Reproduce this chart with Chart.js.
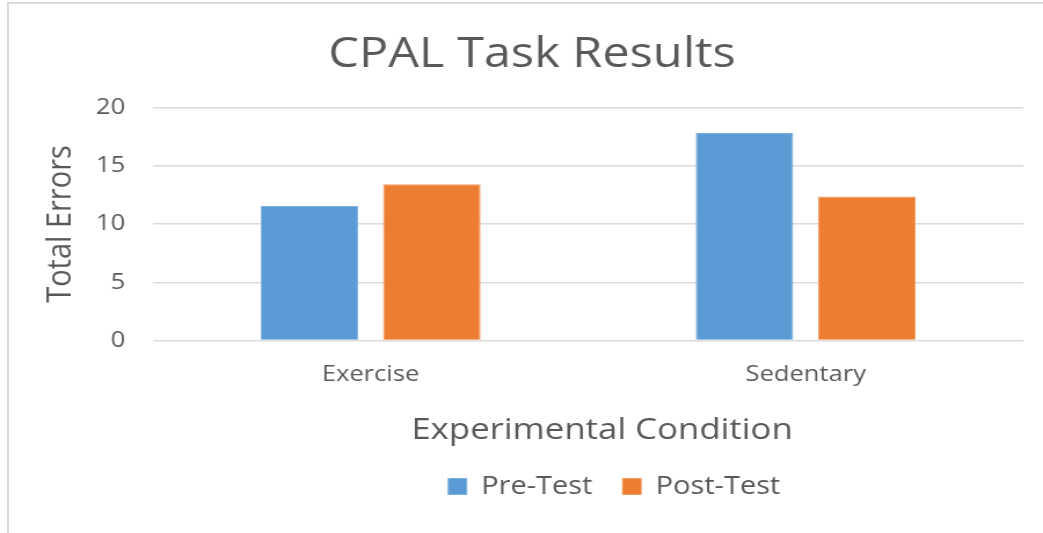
<!DOCTYPE html>
<html>
<head>
<meta charset="utf-8">
<script src="https://cdn.jsdelivr.net/npm/chart.js@4"></script>
<style>
  html, body { margin: 0; padding: 0; background: #fff; overflow: hidden; }
  #frame { position: absolute; left: 7px; top: 2px; width: 1200px; height: 700px;
           border-left: 2px solid #d9d9d9; border-top: 2px solid #d9d9d9; }
  #chart { position: absolute; left: 0; top: 0; transform-origin: 0 0; transform: scaleX(1.1589); }
</style>
</head>
<body>
<div id="frame"></div>
<canvas id="chart" width="900" height="533"></canvas>
<script>
const categorias = ["Exercise", "Sedentary"];
const preTest = [11.55, 17.8];
const postTest = [13.4, 12.35];
const serieNomes = ["Pre-Test", "Post-Test"];
const yTicks = [0, 5, 10, 15, 20];

const cinza = "#595959";
const fonte = "'Open Sans', 'Noto Sans', sans-serif";

// desloca a legenda e o título do eixo x para a direita, como no original
const ajustes = {
  id: "ajustes",
  afterLayout(chart) {
    const l = chart.legend;
    if (l) { l.left += 71; l.right += 71; }
    const x = chart.scales.x;
    x.left += 12; x.right += 12;
  }
};

new Chart(document.getElementById("chart").getContext("2d"), {
  type: "bar",
  data: {
    labels: categorias,
    datasets: [
      { label: serieNomes[0], data: preTest, backgroundColor: "#5B9BD5", borderColor: "#7fb0de", borderWidth: 1 },
      { label: serieNomes[1], data: postTest, backgroundColor: "#ED7D31", borderColor: "#f19a5e", borderWidth: 1 }
    ]
  },
  options: {
    responsive: false,
    devicePixelRatio: 1,
    animation: false,
    layout: { padding: { left: 35, right: 17, top: 0, bottom: 24 } },
    datasets: { bar: { categoryPercentage: 0.563, barPercentage: 0.796 } },
    plugins: {
      title: {
        display: true,
        text: "CPAL Task Results",
        color: cinza,
        font: { family: fonte, size: 42, weight: "normal" },
        padding: { top: 30, bottom: 27 }
      },
      legend: {
        position: "bottom",
        labels: {
          color: cinza,
          font: { family: fonte, size: 25 },
          boxWidth: 16,
          boxHeight: 16,
          padding: 26
        }
      },
      tooltip: { enabled: false }
    },
    scales: {
      x: {
        grid: { display: false },
        border: { display: false },
        ticks: { color: cinza, font: { family: fonte, size: 22 }, padding: 13 },
        title: {
          display: true,
          text: "Experimental Condition",
          color: cinza,
          font: { family: fonte, size: 30 },
          padding: { top: 11, bottom: 0 }
        }
      },
      y: {
        min: 0,
        max: 20,
        afterBuildTicks(axis) { axis.ticks = yTicks.map((v) => ({ value: v })); },
        afterFit(axis) { axis.width = 97; },
        grid: { color: "#dcdcdc", lineWidth: 1.5, drawTicks: false },
        border: { display: false },
        ticks: { color: cinza, font: { family: fonte, size: 22 }, padding: 24 },
        title: {
          display: true,
          text: "Total Errors",
          color: cinza,
          font: { family: fonte, size: 29 },
          padding: { top: 0, bottom: 13 }
        }
      }
    }
  },
  plugins: [ajustes]
});
</script>
</body>
</html>
